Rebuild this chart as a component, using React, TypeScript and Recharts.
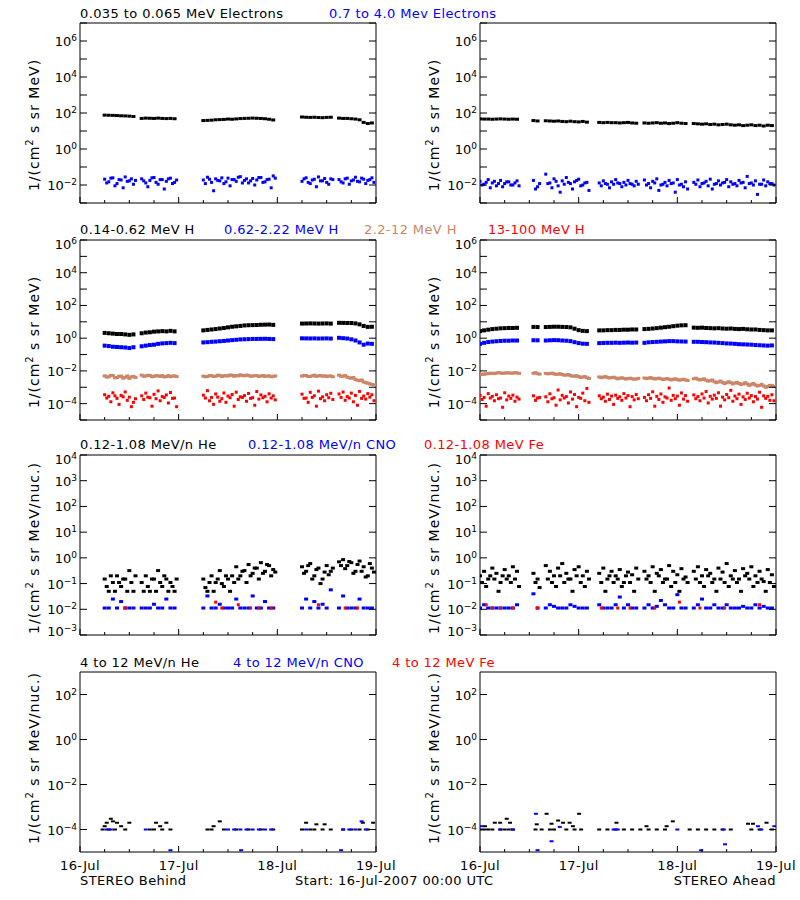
import { ReferenceArea, Scatter, ScatterChart, XAxis, YAxis } from "recharts";

const BLACK = "#000000";
const BLUE = "#0000ff";
const BROWN = "#cc8566";
const RED = "#ff0000";
const FONT = "'DejaVu Sans', sans-serif";

// hours since 16-Jul-2007 00:00
const dayTicks = [0, 6, 12, 18, 24, 30, 36, 42, 48, 54, 60, 66, 72];
const dayLabels = ["16-Jul", "17-Jul", "18-Jul", "19-Jul"];

// STEREO Behind sample hours
const hoursL = [
  6, 7, 8, 9, 10, 11, 12, 13,
  15, 16, 17, 18, 19, 20, 21, 22, 23,
  30, 31, 32, 33, 34, 35, 36, 37, 38, 39, 40, 41, 42, 43, 44, 45, 46, 47,
  54, 55, 56, 57, 58, 59, 60, 61,
  63, 64, 65, 66, 67, 68, 69, 70, 71
];

// STEREO Ahead sample hours
const hoursR = [
  0, 1, 2, 3, 4, 5, 6, 7, 8, 9,
  13, 14,
  16, 17, 18, 19, 20, 21, 22, 23, 24, 25, 26,
  29, 30, 31, 32, 33, 34, 35, 36, 37, 38,
  40, 41, 42, 43, 44, 45, 46, 47, 48, 49, 50,
  52, 53, 54, 55, 56, 57, 58, 59, 60, 61, 62, 63, 64, 65, 66, 67, 68, 69, 70, 71
];

// row 1: electrons
const eLoL = [
  76, 75, 74, 72, 70, 69, 67, 64,
  50, 52, 51, 50, 52, 50, 49, 50, 48,
  38, 39, 40, 42, 43, 44, 46, 45, 47, 49, 50, 51, 52, 51, 50, 48, 45, 41,
  60, 58, 57, 58, 56, 55, 57, 58,
  52, 50, 50, 48, 46, 42, 30, 26, 28
];
const eHiLa = [
  0.021, 0.015, 0.025, 0.012, 0.019, 0.028, 0.017, 0.011,
  0.022, 0.013, 0.018, 0.026, 0.011, 0.02, 0.016, 0.024, 0.014,
  0.019, 0.027, 0.014, 0.022, 0.017, 0.012, 0.024, 0.02, 0.016, 0.029, 0.018, 0.013, 0.023, 0.019, 0.026, 0.015, 0.021, 0.032,
  0.016, 0.025, 0.012, 0.021, 0.028, 0.017, 0.014, 0.022,
  0.02, 0.013, 0.024, 0.017, 0.027, 0.015, 0.021, 0.018, 0.025
];
const eHiLb = [
  0.013, 0.024, 0.009, 0.02, 0.007, 0.016, 0.022, 0.018,
  0.017, 0.008, 0.025, 0.014, 0.02, 0.006, 0.022, 0.012, 0.019,
  0.012, 0.021, 0.0048, 0.018, 0.025, 0.015, 0.009, 0.02, 0.027, 0.013, 0.022, 0.017, 0.01, 0.026, 0.014, 0.02, 0.007, 0.024,
  0.022, 0.014, 0.019, 0.008, 0.017, 0.023, 0.011, 0.02,
  0.015, 0.022, 0.011, 0.019, 0.016, 0.024, 0.012, 0.02, 0.014
];
const eLoR = [
  47, 46, 46, 45, 46, 47, 46, 45, 46, 45,
  38, 36,
  37, 36, 35, 36, 34, 33, 35, 33, 32, 34, 31,
  30, 29, 30, 29, 29, 28, 29, 30, 28, 27,
  28, 27, 28, 29, 27, 28, 26, 27, 29, 27, 26,
  26, 25, 24, 25, 23, 24, 22, 23, 24, 22, 21, 22, 20, 21, 22, 20, 21, 19, 21, 20
];
const eHiRa = [
  0.016, 0.011, 0.02, 0.013, 0.009, 0.018, 0.012, 0.015, 0.01, 0.017,
  0.018, 0.008,
  0.04, 0.013, 0.022, 0.009, 0.017, 0.026, 0.012, 0.015, 0.021, 0.01, 0.014,
  0.013, 0.017, 0.011, 0.015, 0.02, 0.012, 0.014, 0.018, 0.011, 0.016,
  0.019, 0.012, 0.016, 0.022, 0.01, 0.014, 0.018, 0.013, 0.02, 0.011, 0.015,
  0.014, 0.019, 0.012, 0.016, 0.021, 0.011, 0.017, 0.013, 0.02, 0.015, 0.012, 0.018, 0.014, 0.03, 0.013, 0.017, 0.011, 0.019, 0.015, 0.012
];
const eHiRb = [
  0.01, 0.014, 0.007, 0.016, 0.012, 0.008, 0.015, 0.01, 0.013, 0.009,
  0.006, 0.012,
  0.012, 0.007, 0.016, 0.004, 0.011, 0.014, 0.006, 0.018, 0.009, 0.013, 0.005,
  0.009, 0.012, 0.007, 0.011, 0.013, 0.008, 0.01, 0.012, 0.009, 0.011,
  0.01, 0.007, 0.013, 0.005, 0.011, 0.009, 0.012, 0.004, 0.01, 0.008, 0.006,
  0.011, 0.008, 0.013, 0.009, 0.006, 0.012, 0.01, 0.014, 0.008, 0.011, 0.009, 0.013, 0.007, 0.012, 0.01, 0.003, 0.011, 0.009, 0.012, 0.01
];

// row 2: protons
const hLoL = [
  2.1, 2.0, 1.9, 1.8, 1.8, 1.7, 1.6, 1.7,
  2.0, 2.2, 2.3, 2.5, 2.6, 2.7, 2.6, 2.8, 2.6,
  3.0, 3.2, 3.4, 3.6, 3.9, 4.2, 4.6, 5.0, 5.3, 5.6, 6.0, 6.2, 6.3, 6.4, 6.6, 6.7, 6.8, 6.5,
  7.8, 7.9, 8.0, 7.9, 7.8, 7.9, 8.0, 7.8,
  8.7, 8.6, 8.5, 8.4, 8.0, 7.0, 5.6, 4.9, 5.0
];
const hMidL = [
  0.35, 0.33, 0.3, 0.29, 0.28, 0.27, 0.25, 0.28,
  0.32, 0.35, 0.38, 0.4, 0.45, 0.48, 0.5, 0.52, 0.5,
  0.55, 0.57, 0.6, 0.62, 0.65, 0.68, 0.72, 0.76, 0.8, 0.84, 0.86, 0.88, 0.9, 0.9, 0.91, 0.92, 0.9, 0.88,
  0.98, 0.97, 0.96, 0.97, 0.95, 0.96, 0.97, 0.95,
  1.05, 1.0, 0.95, 0.85, 0.72, 0.55, 0.4, 0.47, 0.45
];
const hBrLa = [
  0.005, 0.0044, 0.0052, 0.0039, 0.0048, 0.0041, 0.0035, 0.0046,
  0.0055, 0.0049, 0.0053, 0.0047, 0.005, 0.0052, 0.0045, 0.0044, 0.005,
  0.0048, 0.0045, 0.0051, 0.0047, 0.0053, 0.005, 0.0049, 0.0054, 0.0052, 0.0058, 0.005, 0.0053, 0.0048, 0.0051, 0.0049, 0.0046, 0.005, 0.0047,
  0.0048, 0.0052, 0.0046, 0.0055, 0.005, 0.0047, 0.0045, 0.0049,
  0.0055, 0.0048, 0.0042, 0.0036, 0.003, 0.0025, 0.0021, 0.0018, 0.0015
];
const hBrLb = [
  0.0042, 0.0053, 0.0038, 0.0047, 0.0036, 0.0049, 0.0043, 0.004,
  0.0047, 0.0054, 0.0044, 0.0051, 0.0046, 0.0043, 0.0052, 0.0048, 0.0045,
  0.0044, 0.0052, 0.0046, 0.0055, 0.0045, 0.0051, 0.0056, 0.0047, 0.005, 0.0053, 0.0056, 0.0047, 0.0052, 0.0046, 0.0052, 0.0049, 0.0044, 0.0049,
  0.0053, 0.0045, 0.005, 0.0046, 0.0052, 0.0051, 0.0049, 0.0044,
  0.0047, 0.0052, 0.0038, 0.004, 0.0027, 0.0028, 0.0019, 0.0016, 0.0014
];
const hHiLa = [
  3.5e-4, 2.8e-4, 4.6e-4, 2.1e-4, 3.2e-4, 5.2e-4, 2.5e-4, 1.2e-4,
  3.0e-4, 4.4e-4, 2.3e-4, 3.7e-4, 6.0e-4, 2.7e-4, 3.4e-4, 4.8e-4, 2.2e-4,
  3.3e-4, 6.2e-4, 2.4e-4, 3.9e-4, 1.4e-4, 4.5e-4, 2.9e-4, 3.6e-4, 5.0e-4, 2.6e-4, 3.1e-4, 4.2e-4, 2.3e-4, 5.5e-4, 3.4e-4, 2.8e-4, 4.0e-4, 3.0e-4,
  3.8e-4, 2.2e-4, 4.9e-4, 3.0e-4, 5.8e-4, 2.6e-4, 3.5e-4, 4.3e-4,
  3.9e-4, 5.1e-4, 2.7e-4, 4.4e-4, 3.2e-4, 5.6e-4, 2.9e-4, 4.1e-4, 3.5e-4
];
const hHiLb = [
  2.2e-4, 1.3e-4, 3.0e-4, 9e-5, 2.6e-4, 1.6e-4, 6.5e-5, 2.0e-4,
  1.8e-4, 2.5e-4, 7e-5, 2.0e-4, 1.5e-4, 2.4e-4, 1.1e-4, 2.1e-4, 6.5e-5,
  2.2e-4, 1.5e-4, 9e-5, 2.5e-4, 2.0e-4, 1.2e-4, 2.3e-4, 7e-5, 1.8e-4, 2.4e-4, 1.4e-4, 2.1e-4, 8e-5, 1.9e-4, 2.3e-4, 1.3e-4, 2.2e-4, 1.7e-4,
  2.1e-4, 1.2e-4, 2.4e-4, 7e-5, 2.0e-4, 1.5e-4, 2.3e-4, 1.8e-4,
  2.4e-4, 1.6e-4, 2.2e-4, 1.3e-4, 8e-5, 2.1e-4, 1.9e-4, 2.5e-4, 1.5e-4
];
const hLoR = [
  2.7, 3.0, 3.3, 3.6, 3.8, 4.0, 4.1, 4.2, 4.2, 4.3,
  4.9, 4.8,
  4.8, 4.9, 5.0, 5.0, 4.9, 4.8, 4.6, 3.8, 3.1, 2.8, 2.7,
  3.0, 3.0, 3.1, 3.1, 3.2, 3.2, 3.3, 3.3, 3.4, 3.4,
  3.6, 3.7, 3.9, 4.1, 4.4, 4.7, 5.0, 5.4, 5.8, 6.1, 6.2,
  4.4, 4.3, 4.4, 4.2, 4.1, 4.0, 4.1, 3.9, 3.8, 3.9, 3.7, 3.6, 3.7, 3.5, 3.4, 3.4, 3.2, 3.1, 3.0, 3.0
];
const hMidR = [
  0.45, 0.52, 0.58, 0.62, 0.65, 0.68, 0.7, 0.7, 0.72, 0.72,
  0.75, 0.74,
  0.72, 0.74, 0.76, 0.75, 0.72, 0.7, 0.66, 0.57, 0.5, 0.46, 0.45,
  0.5, 0.51, 0.52, 0.52, 0.53, 0.52, 0.53, 0.54, 0.53, 0.54,
  0.52, 0.56, 0.58, 0.6, 0.62, 0.64, 0.66, 0.66, 0.64, 0.63, 0.62,
  0.6, 0.6, 0.58, 0.57, 0.55, 0.54, 0.52, 0.5, 0.48, 0.47, 0.45, 0.43, 0.42, 0.41, 0.4, 0.38, 0.37, 0.36, 0.35, 0.36
];
const hBrRa = [
  0.0058, 0.0062, 0.0068, 0.0072, 0.0074, 0.0075, 0.0073, 0.0076, 0.0074, 0.0075,
  0.0072, 0.0068,
  0.0071, 0.0069, 0.0066, 0.0063, 0.006, 0.0056, 0.0052, 0.0048, 0.0045, 0.0042, 0.0038,
  0.0043, 0.0042, 0.004, 0.0039, 0.0037, 0.0036, 0.0035, 0.0034, 0.0033, 0.0032,
  0.0037, 0.0036, 0.0035, 0.0034, 0.0033, 0.0032, 0.0031, 0.0031, 0.003, 0.0029, 0.0028,
  0.0033, 0.0031, 0.003, 0.0027, 0.0025, 0.0022, 0.0021, 0.002, 0.0019, 0.0019, 0.0018, 0.0017, 0.0016, 0.0016, 0.0015, 0.0014, 0.0013, 0.0012, 0.0011, 0.0013
];
const hBrRb = [
  0.0064, 0.0067, 0.0072, 0.0069, 0.0078, 0.0071, 0.0077, 0.0072, 0.0078, 0.0071,
  0.0078, 0.0064,
  0.0066, 0.0073, 0.0062, 0.0067, 0.0055, 0.006, 0.0048, 0.0051, 0.004, 0.0045, 0.0035,
  0.0039, 0.0045, 0.0037, 0.0041, 0.0033, 0.0038, 0.0032, 0.0036, 0.0031, 0.0035,
  0.0034, 0.0039, 0.0032, 0.0036, 0.003, 0.0034, 0.0028, 0.0033, 0.0027, 0.0031, 0.0026,
  0.0036, 0.0028, 0.0033, 0.0024, 0.0028, 0.0019, 0.0024, 0.0017, 0.0022, 0.0016, 0.002, 0.0015, 0.0019, 0.0013, 0.0017, 0.0012, 0.0015, 0.001, 0.0013, 0.0011
];
const hHiRa = [
  3.2e-4, 2.4e-4, 4.1e-4, 2.8e-4, 3.5e-4, 2.2e-4, 4.6e-4, 2.9e-4, 3.3e-4, 2.5e-4,
  3.0e-4, 2.2e-4,
  2.6e-4, 4.0e-4, 2.3e-4, 6.8e-4, 3.2e-4, 2.7e-4, 5.2e-4, 3.6e-4, 2.4e-4, 4.4e-4, 8.5e-4,
  3.0e-4, 2.5e-4, 3.8e-4, 2.9e-4, 3.3e-4, 2.6e-4, 4.1e-4, 3.1e-4, 2.7e-4, 3.6e-4,
  2.4e-4, 3.5e-4, 5.3e-4, 2.8e-4, 3.9e-4, 2.6e-4, 9.0e-4, 3.2e-4, 2.9e-4, 4.5e-4, 3.1e-4,
  3.4e-4, 2.7e-4, 3.9e-4, 5.5e-4, 2.8e-4, 3.3e-4, 4.6e-4, 2.5e-4, 3.6e-4, 6.5e-4, 2.9e-4, 3.8e-4, 2.6e-4, 4.3e-4, 3.1e-4, 2.7e-4, 5.0e-4, 3.0e-4, 2.8e-4, 3.5e-4
];
const hHiRb = [
  1.8e-4, 7e-5, 2.2e-4, 1.5e-4, 2.0e-4, 6e-5, 1.7e-4, 2.1e-4, 1.4e-4, 1.9e-4,
  1.6e-4, 2.4e-4,
  1.3e-4, 2.0e-4, 8e-5, 1.7e-4, 2.2e-4, 1.1e-4, 1.9e-4, 6.5e-5, 2.1e-4, 1.5e-4, 1.2e-4,
  2.0e-4, 1.4e-4, 1.8e-4, 9e-5, 2.1e-4, 1.6e-4, 2.2e-4, 6.5e-5, 1.7e-4, 2.0e-4,
  1.5e-4, 2.1e-4, 7e-5, 1.8e-4, 1.2e-4, 2.2e-4, 1.6e-4, 2.0e-4, 8e-5, 1.9e-4, 1.4e-4,
  2.0e-4, 1.5e-4, 2.2e-4, 1.1e-4, 1.9e-4, 2.1e-4, 7e-5, 1.7e-4, 2.3e-4, 1.4e-4, 2.0e-4, 9e-5, 1.8e-4, 2.2e-4, 1.3e-4, 1.9e-4, 6e-5, 2.1e-4, 1.6e-4, 1.5e-4
];

// row 3: low energy ions
const heLa = [
  0.15, 0.05, 0.11, 0.2, 0.077, 0.15, 0.32, 0.05,
  0.11, 0.2, 0.05, 0.15, 0.32, 0.077, 0.15, 0.11, 0.05,
  0.15, 0.05, 0.2, 0.11, 0.32, 0.077, 0.15, 0.2, 0.45, 0.2, 0.32, 0.55, 0.25, 0.4, 0.65, 0.3, 0.5, 0.35,
  0.45, 0.3, 0.6, 0.2, 0.4, 0.15, 0.5, 0.3,
  0.7, 0.85, 0.5, 0.65, 0.3, 0.75, 0.45, 0.2, 0.4
];
const heLb = [
  0.077, 0.2, 0.05, 0.11, 0.15, 0.05, 0.11, 0.2,
  0.05, 0.077, 0.15, 0.05, 0.11, 0.2, 0.05, 0.077, 0.15,
  0.07, 0.11, 0.05, 0.15, 0.1, 0.2, 0.05, 0.11, 0.15, 0.3, 0.11, 0.2, 0.4, 0.15, 0.25, 0.55, 0.2, 0.28,
  0.25, 0.5, 0.15, 0.35, 0.1, 0.28, 0.22, 0.4,
  0.5, 0.38, 0.72, 0.25, 0.55, 0.3, 0.18, 0.6, 0.28
];
const cnoL = [
  0.0112, 0.0112, 0.025, 0.0112, 0.02, 0.0112, 0.0112, 0.0112,
  0.0112, 0.0112, 0.0112, 0.0157, 0.0112, 0.0112, 0.025, 0.0112, 0.0112,
  0.0112, 0.033, 0.0112, 0.0112, 0.0157, 0.0112, 0.0112, 0.0112, 0.025, 0.0112, 0.0112, 0.0112, 0.033, 0.0112, 0.0112, 0.02, 0.0112, 0.0112,
  0.0112, 0.025, 0.0112, 0.02, 0.0112, 0.0157, 0.0112, 0.057,
  0.0112, 0.033, 0.0112, 0.0112, 0.0112, 0.025, 0.0112, 0.0112, 0.0112
];
const feLt = [11, 33, 34.5, 38.5, 41.5, 43.5, 46.5, 58, 64.5, 67.5];
const feLv = [0.0112, 0.019, 0.0112, 0.015, 0.0112, 0.0112, 0.0112, 0.015, 0.0112, 0.0112];
const heRa = [
  0.2, 0.3, 0.15, 0.4, 0.25, 0.11, 0.35, 0.2, 0.45, 0.3,
  0.25, 0.15,
  0.5, 0.3, 0.2, 0.4, 0.6, 0.25, 0.15, 0.35, 0.45, 0.2, 0.3,
  0.25, 0.4, 0.15, 0.3, 0.2, 0.35, 0.11, 0.28, 0.22, 0.4,
  0.3, 0.2, 0.45, 0.25, 0.35, 0.15, 0.5, 0.3, 0.22, 0.38, 0.18,
  0.3, 0.45, 0.2, 0.35, 0.25, 0.15, 0.4, 0.28, 0.6, 0.2, 0.32, 0.15, 0.38, 0.25, 0.45, 0.2, 0.3, 0.12, 0.35, 0.22
];
const heRb = [
  0.11, 0.077, 0.2, 0.15, 0.05, 0.2, 0.15, 0.11, 0.15, 0.077,
  0.11, 0.07,
  0.15, 0.11, 0.077, 0.2, 0.11, 0.15, 0.05, 0.2, 0.11, 0.077, 0.15,
  0.11, 0.05, 0.2, 0.11, 0.15, 0.077, 0.2, 0.11, 0.05, 0.15,
  0.15, 0.11, 0.05, 0.2, 0.11, 0.15, 0.077, 0.11, 0.05, 0.15, 0.11,
  0.15, 0.11, 0.077, 0.2, 0.11, 0.05, 0.15, 0.11, 0.077, 0.15, 0.11, 0.05, 0.2, 0.15, 0.077, 0.11, 0.15, 0.05, 0.11, 0.077
];
const cnoR = [
  0.0112, 0.015, 0.0112, 0.0112, 0.0112, 0.0112, 0.0112, 0.0112, 0.0112, 0.015,
  0.04, 0.0112,
  0.0112, 0.015, 0.013, 0.0112, 0.0112, 0.0112, 0.015, 0.013, 0.0112, 0.0112, 0.0112,
  0.015, 0.0112, 0.0112, 0.0112, 0.015, 0.03, 0.0112, 0.015, 0.0112, 0.0112,
  0.0112, 0.015, 0.0112, 0.013, 0.022, 0.015, 0.0112, 0.0112, 0.037, 0.0112, 0.0112,
  0.0112, 0.015, 0.025, 0.0112, 0.0112, 0.015, 0.0112, 0.0112, 0.015, 0.0112, 0.0112, 0.0112, 0.013, 0.0112, 0.0112, 0.015, 0.0112, 0.013, 0.0112, 0.0112
];
const feRt = [1.5, 3, 5, 8, 14, 29.5, 33.5, 36.5, 42.5, 48.5, 53.5, 59.5, 68];
const feRv = [0.015, 0.0112, 0.0112, 0.0112, 0.0112, 0.0112, 0.0112, 0.0112, 0.0112, 0.019, 0.0112, 0.0112, 0.015];

// row 4: high energy ions (sparse)
const he4Lt = [
  5.5, 6, 6.5, 7, 7.5, 8, 8.5, 9, 10, 11, 12,
  17, 18, 18.5, 19.5, 20, 21, 22,
  31, 32, 32.5, 34, 35, 38, 41, 44, 47,
  54, 55, 56, 57, 57.5, 59, 59.5, 61,
  64, 66, 68, 68.8, 70, 71.3
];
const he4Lv = [
  1e-4, 1.4e-4, 2e-4, 1e-4, 3e-4, 2.3e-4, 1e-4, 2e-4, 1.4e-4, 1e-4, 2e-4,
  1e-4, 1e-4, 2e-4, 1.4e-4, 1e-4, 2e-4, 1e-4,
  1e-4, 1e-4, 1.4e-4, 2.3e-4, 1e-4, 1e-4, 1e-4, 1e-4, 1e-4,
  1e-4, 2e-4, 1e-4, 1e-4, 1.7e-4, 1e-4, 1.7e-4, 1e-4,
  1e-4, 1e-4, 1e-4, 2e-4, 1e-4, 2e-4
];
const cno4Lt = [6.5, 7.5, 16, 22, 36, 37.5, 39, 40.5, 42, 43.5, 45, 46.5, 55, 64, 65.5, 67, 68.5, 69.5, 39.2, 63.5];
const cno4Lv = [1e-4, 1e-4, 1e-4, 1.2e-5, 1e-4, 1e-4, 1e-4, 1e-4, 1e-4, 1e-4, 1e-4, 1e-4, 1e-4, 1e-4, 1e-4, 1e-4, 2.3e-4, 1e-4, 1.2e-5, 1.2e-5];
const he4Rt = [
  0, 1, 1.2, 2, 3, 3.6, 4.9, 5, 6, 6.5, 7, 7.3, 8,
  13.5, 13.8, 15, 16.2, 17, 17.4, 18, 19, 20.2, 21, 21.8, 22.6, 23, 24.1, 24.6,
  29, 31, 33, 33.2, 35, 37, 39, 40.5, 41, 43, 45, 45.4, 46.9,
  51, 53, 55, 57, 59, 61,
  65.2, 66, 66.4, 68, 69.7, 71
];
const he4Rv = [
  1e-4, 1e-4, 1.4e-4, 1e-4, 1e-4, 2e-4, 2e-4, 1e-4, 1e-4, 3e-4, 1e-4, 2e-4, 1e-4,
  1e-4, 1.7e-4, 1e-4, 5e-4, 1e-4, 1.8e-4, 1e-4, 2.5e-4, 2e-4, 1e-4, 2e-4, 1.4e-4, 1e-4, 5e-4, 1e-4,
  1e-4, 1e-4, 1e-4, 2e-4, 1e-4, 1e-4, 1e-4, 1.4e-4, 1e-4, 1e-4, 1e-4, 1.4e-4, 2.3e-4,
  1e-4, 1e-4, 1e-4, 1e-4, 1e-4, 1e-4,
  1.8e-4, 1e-4, 1.8e-4, 1e-4, 2e-4, 1e-4
];
const cno4Rt = [0.3, 4.9, 8, 13.6, 14, 17.4, 19.4, 32.5, 33.5, 48, 53.8, 59.3, 59.6, 67.6, 68.4, 71.6];
const cno4Rv = [1.4e-4, 1e-4, 1e-4, 5e-4, 1.2e-5, 3e-5, 1.3e-4, 1e-4, 1e-4, 1e-4, 1.2e-5, 1e-4, 2.2e-5, 1.4e-4, 1e-4, 1.4e-4];

const PW = 296;
const PH = 180;
const MT = 5;

type Pt = { t: number; v: number };
type Series = { data: Pt[]; color: string; w: number; h: number };

// dt = offset of the second sample inside each hour
const pts = (ts: number[], vs: number[], dt = 0): Pt[] =>
  ts.map((t, i) => ({ t: t + dt, v: vs[i] })).filter((p) => p.v != null && p.v > 0);

const ser = (data: Pt[], color: string, w: number, h: number): Series => ({ data, color, w, h });

const decades = (a: number, b: number, step = 1) => {
  const out: number[] = [];
  for (let e = a; e <= b; e += step) out.push(Math.pow(10, e));
  return out;
};

interface PanelProps {
  left: number;
  top: number;
  domain: [number, number];
  ticks: number[];
  labels: number[];
  series: Series[];
  dates?: boolean;
}

function Panel({ left, top, domain, ticks, labels, series, dates }: PanelProps) {
  const bottom = MT + PH;
  const lo = Math.round(Math.log10(domain[0]));
  const hi = Math.round(Math.log10(domain[1]));
  const YTick = (p: any) => {
    const exp = Math.round(Math.log10(p.payload.value));
    // keep edge labels inside the frame, like the original plot
    const shift = exp === hi ? 4 : exp === lo ? -4 : 0;
    return (
      <g>
        <line x1={80} x2={87} y1={p.y} y2={p.y} stroke={BLACK} />
        <line x1={80 + PW - 7} x2={80 + PW} y1={p.y} y2={p.y} stroke={BLACK} />
        {labels.includes(exp) && (
          <text x={77} y={p.y + 5 + shift} textAnchor="end" fontSize={13} fontFamily={FONT} fill={BLACK}>
            10
            <tspan dy={-5} fontSize={9}>
              {String(exp).replace("-", "\u2212")}
            </tspan>
          </text>
        )}
      </g>
    );
  };
  const XTick = (p: any) => {
    const v = p.payload.value;
    const major = v % 24 === 0;
    return (
      <g>
        <line x1={p.x} x2={p.x} y1={bottom} y2={bottom - (major ? 6 : 3)} stroke={BLACK} />
        {dates && major && (
          <text x={p.x} y={bottom + 18} textAnchor="middle" fontSize={13} fontFamily={FONT} fill={BLACK} letterSpacing={0.4}>
            {dayLabels[v / 24]}
          </text>
        )}
      </g>
    );
  };
  return (
    <div style={{ position: "absolute", left, top: top - MT }}>
      <ScatterChart width={80 + PW + 4} height={MT + PH + 25} margin={{ top: MT, right: 4, left: 0, bottom: 0 }}>
        <XAxis
          type="number"
          dataKey="t"
          domain={[0, 72]}
          ticks={dayTicks}
          interval={0}
          allowDataOverflow
          axisLine={false}
          tickLine={false}
          height={25}
          tick={XTick}
        />
        <YAxis
          type="number"
          dataKey="v"
          scale="log"
          domain={domain}
          ticks={ticks}
          interval={0}
          allowDataOverflow
          axisLine={false}
          tickLine={false}
          width={80}
          tick={YTick}
        />
        <ReferenceArea x1={0} x2={72} y1={domain[0]} y2={domain[1]} fill="none" fillOpacity={0} stroke={BLACK} strokeOpacity={1} />
        {series.map((s, i) => (
          <Scatter
            key={i}
            data={s.data}
            fill={s.color}
            isAnimationActive={false}
            shape={(p: any) => <rect x={p.cx - s.w / 2} y={p.cy - s.h / 2} width={s.w} height={s.h} fill={s.color} />}
          />
        ))}
      </ScatterChart>
    </div>
  );
}

const rows = [
  { top: 23, domain: [1e-3, 1e7] as [number, number], ticks: decades(-3, 7), labels: [-2, 0, 2, 4, 6] },
  { top: 240, domain: [1e-5, 1e6] as [number, number], ticks: decades(-5, 6), labels: [-4, -2, 0, 2, 4, 6] },
  { top: 455, domain: [1e-3, 1e4] as [number, number], ticks: decades(-3, 4), labels: [-3, -2, -1, 0, 1, 2, 3, 4] },
  { top: 672, domain: [1e-5, 1e3] as [number, number], ticks: decades(-4, 2, 2), labels: [-4, -2, 0, 2] }
];

const leftSeries: Series[][] = [
  [ser(pts(hoursL, eLoL), BLACK, 4, 3), ser(pts(hoursL, eHiLa), BLUE, 3, 3), ser(pts(hoursL, eHiLb, 0.5), BLUE, 3, 3)],
  [
    ser(pts(hoursL, hLoL), BLACK, 4, 4),
    ser(pts(hoursL, hMidL), BLUE, 4, 4),
    ser(pts(hoursL, hBrLa), BROWN, 4, 3),
    ser(pts(hoursL, hBrLb, 0.5), BROWN, 4, 3),
    ser(pts(hoursL, hHiLa), RED, 3, 3),
    ser(pts(hoursL, hHiLb, 0.5), RED, 3, 3)
  ],
  [
    ser(pts(hoursL, heLa), BLACK, 4, 3),
    ser(pts(hoursL, heLb, 0.5), BLACK, 4, 3),
    ser(pts(hoursL, cnoL), BLUE, 4, 3),
    ser(pts(feLt, feLv), RED, 3, 3)
  ],
  [ser(pts(he4Lt, he4Lv), BLACK, 4, 2), ser(pts(cno4Lt, cno4Lv), BLUE, 4, 2)]
];

const rightSeries: Series[][] = [
  [ser(pts(hoursR, eLoR), BLACK, 4, 3), ser(pts(hoursR, eHiRa), BLUE, 3, 3), ser(pts(hoursR, eHiRb, 0.5), BLUE, 3, 3)],
  [
    ser(pts(hoursR, hLoR), BLACK, 4, 4),
    ser(pts(hoursR, hMidR), BLUE, 4, 4),
    ser(pts(hoursR, hBrRa), BROWN, 4, 3),
    ser(pts(hoursR, hBrRb, 0.5), BROWN, 4, 3),
    ser(pts(hoursR, hHiRa), RED, 3, 3),
    ser(pts(hoursR, hHiRb, 0.5), RED, 3, 3)
  ],
  [
    ser(pts(hoursR, heRa), BLACK, 4, 3),
    ser(pts(hoursR, heRb, 0.5), BLACK, 4, 3),
    ser(pts(hoursR, cnoR), BLUE, 4, 3),
    ser(pts(feRt, feRv), RED, 3, 3)
  ],
  [ser(pts(he4Rt, he4Rv), BLACK, 4, 2), ser(pts(cno4Rt, cno4Rv), BLUE, 4, 2)]
];

const titles = [
  { x: 80, y: 18, text: "0.035 to 0.065 MeV Electrons", color: BLACK },
  { x: 329, y: 18, text: "0.7 to 4.0 Mev Electrons", color: BLUE },
  { x: 80, y: 234, text: "0.14-0.62 MeV H", color: BLACK },
  { x: 224, y: 234, text: "0.62-2.22 MeV H", color: BLUE },
  { x: 364, y: 234, text: "2.2-12 MeV H", color: BROWN },
  { x: 488, y: 234, text: "13-100 MeV H", color: RED },
  { x: 80, y: 449, text: "0.12-1.08 MeV/n He", color: BLACK },
  { x: 248, y: 449, text: "0.12-1.08 MeV/n CNO", color: BLUE },
  { x: 424, y: 449, text: "0.12-1.08 MeV Fe", color: RED },
  { x: 80, y: 667, text: "4 to 12 MeV/n He", color: BLACK },
  { x: 233, y: 667, text: "4 to 12 MeV/n CNO", color: BLUE },
  { x: 392, y: 667, text: "4 to 12 MeV Fe", color: RED }
];

const yTitles = [
  { cy: 125, unit: "MeV)" },
  { cy: 342, unit: "MeV)" },
  { cy: 548, unit: "MeV/nuc.)" },
  { cy: 758, unit: "MeV/nuc.)" }
];

export default function App() {
  return (
    <div style={{ position: "absolute", left: 0, top: 0, width: 800, height: 900, background: "#ffffff", overflow: "hidden" }}>
      <style>{".recharts-surface{overflow:visible}"}</style>
      {rows.map((r, i) => (
        <div key={i}>
          <Panel left={0} top={r.top} domain={r.domain} ticks={r.ticks} labels={r.labels} series={leftSeries[i]} dates={i === 3} />
          <Panel left={400} top={r.top} domain={r.domain} ticks={r.ticks} labels={r.labels} series={rightSeries[i]} dates={i === 3} />
        </div>
      ))}
      <svg width={800} height={900} style={{ position: "absolute", left: 0, top: 0, pointerEvents: "none" }}>
        <g fontFamily={FONT} fontSize={13} letterSpacing={0.4}>
          {titles.map((t) => (
            <text key={t.text} x={t.x} y={t.y} fill={t.color}>
              {t.text}
            </text>
          ))}
          <text x={80} y={885}>STEREO Behind</text>
          <text x={295} y={885}>Start: 16-Jul-2007 00:00 UTC</text>
          <text x={776} y={885} textAnchor="end">STEREO Ahead</text>
        </g>
        {yTitles.flatMap((t, i) =>
          [39, 439].map((x) => (
            <text
              key={`${i}-${x}`}
              x={x}
              y={t.cy}
              transform={`rotate(-90 ${x} ${t.cy})`}
              textAnchor="middle"
              fontFamily={FONT}
              fontSize={14}
              letterSpacing={1}
            >
              1/(cm
              <tspan dy={-6} fontSize={10}>
                2
              </tspan>
              <tspan dy={6}> s sr {t.unit}</tspan>
            </text>
          ))
        )}
      </svg>
    </div>
  );
}
